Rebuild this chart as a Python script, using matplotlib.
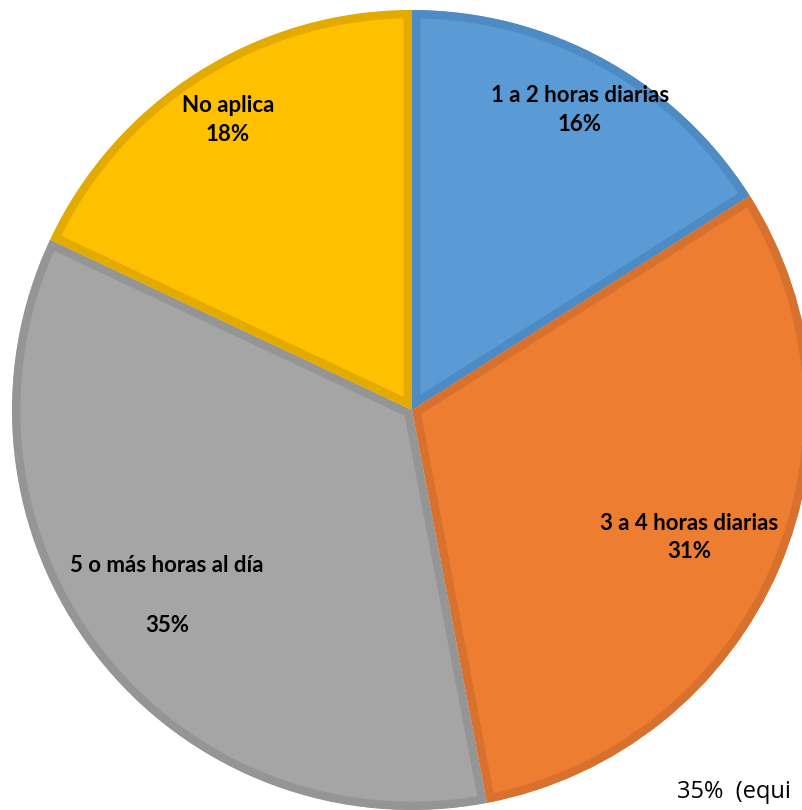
import matplotlib.pyplot as plt

# data
categories = ["1 a 2 horas diarias", "3 a 4 horas diarias", "5 o más horas al día", "No aplica"]
shares = [16, 31, 35, 18]
colors = ["#5B9BD5", "#ED7D31", "#A5A5A5", "#FFC000"]
edge_colors = ["#4E8AC3", "#D7712D", "#959595", "#E3AB00"]

plt.rcParams['font.family'] = ['Lato', 'DejaVu Sans']

fig = plt.figure(figsize=(8.03, 8.10), dpi=100)
ax = fig.add_axes([0, 0, 1, 1])

wedges, _ = ax.pie(shares, colors=colors, startangle=90, counterclock=False,
                   radius=1.0, center=(0, 0))

# inner border: thick stroke clipped to the wedge itself
for w, ec in zip(wedges, edge_colors):
    w.set_edgecolor(ec)
    w.set_linewidth(12)
    w.set_joinstyle('miter')
    w.set_clip_path(w)
    w.set_clip_on(True)

# label positions in pixels of the original picture (centre x, centre y)
def px(x, y):
    return (x - 412) / 400, (410 - y) / 400

label_pos = [(580, 96, 124), (689, 524, 552), (167, 566, 626), (228, 106, 134)]
for name, val, (x, y1, y2) in zip(categories, shares, label_pos):
    ax.text(*px(x, y1), name, ha='center', va='center', fontsize=16,
            fontweight='bold', color='black')
    ax.text(*px(x, y2), f"{val}%", ha='center', va='center', fontsize=16,
            fontweight='bold', color='black')

# stray text at the bottom right of the source
ax.text(*px(677, 792), "35%  (equi", ha='left', va='center',
        fontsize=17, color='black', family=['Open Sans', 'DejaVu Sans'])

ax.set_xlim(-412 / 400, (803 - 412) / 400)
ax.set_ylim(-400 / 400, 410 / 400)
ax.set_aspect('equal')
ax.axis('off')

fig.savefig("out.png", dpi=100)
